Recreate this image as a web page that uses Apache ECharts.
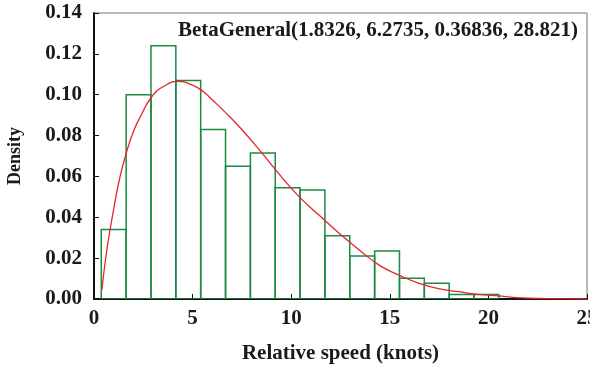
<!DOCTYPE html>
<html>
<head>
<meta charset="utf-8">
<script src="https://cdn.jsdelivr.net/npm/echarts@6/dist/echarts.min.js"></script>
<style>html,body{margin:0;padding:0;background:#fff}#c{width:590px;height:366px}</style>
</head>
<body>
<div id="c"></div>
<script>
// Histogram bin edges (knots) and densities
var binEdges = [0.37,1.63,2.89,4.15,5.41,6.67,7.93,9.19,10.45,11.71,12.97,14.23,15.49,16.75,18.01,19.27,20.53];
var binDensity = [0.034,0.100,0.124,0.107,0.083,0.065,0.0715,0.0545,0.0533,0.031,0.021,0.0235,0.0102,0.0077,0.0022,0.0022];
// Fitted curve points
var curveX = [0.40,0.65,0.99,1.30,1.66,2.00,2.34,2.93,3.52,4.28,5.00,5.55,6.02,6.70,7.37,8.47,9.23,10.41,11.42,12.44,13.45,14.46,15.47,16.49,17.67,18.5,19.0,20.5,21.4,22.9,25.0];
var curveY = [0.0044,0.024,0.0435,0.059,0.0722,0.082,0.089,0.099,0.104,0.1065,0.1047,0.1014,0.0973,0.091,0.0843,0.072,0.063,0.050,0.041,0.0321,0.024,0.0166,0.0117,0.0077,0.0047,0.0036,0.0028,0.0015,0.0007,0.0002,0.0];
var xTicks = [0,5,10,15,20,25];
var yTicks = [0,0.02,0.04,0.06,0.08,0.10,0.12,0.14];
var titleText = 'BetaGeneral(1.8326, 6.2735, 0.36836, 28.821)';

var bins = binDensity.map(function(d,i){return [binEdges[i], binEdges[i+1], d];});
var curve = curveX.map(function(x,i){return [x, curveY[i]];});
var font = '"Liberation Serif","Times New Roman",serif';

var chart = echarts.init(document.getElementById('c'), null, {renderer:'canvas'});
chart.setOption({
  animation:false,
  backgroundColor:'#fff',
  grid:{left:94,right:3,top:13,bottom:67,outerBoundsMode:'none',containLabel:false,show:true,borderColor:'#777',borderWidth:1,backgroundColor:'transparent'},
  title:{text:titleText,right:7,top:15,textStyle:{fontFamily:font,fontWeight:'bold',fontSize:21,color:'#1a1a1a'}},
  xAxis:{type:'value',min:xTicks[0],max:xTicks[xTicks.length-1],interval:5,
    name:'Relative speed (knots)',nameLocation:'middle',nameGap:44,
    nameTextStyle:{fontFamily:font,fontWeight:'bold',fontSize:21,color:'#1a1a1a'},
    axisLine:{show:true,onZero:false,lineStyle:{color:'#111',width:2}},
    axisTick:{show:true,inside:true,length:5,lineStyle:{color:'#111',width:1}},
    axisLabel:{fontFamily:font,fontWeight:'bold',fontSize:21,color:'#1a1a1a',margin:9,showMaxLabel:true,hideOverlap:false},
    splitLine:{show:false}},
  yAxis:{type:'value',min:yTicks[0],max:yTicks[yTicks.length-1],interval:0.02,
    name:'Density',nameLocation:'middle',nameGap:70,
    nameTextStyle:{fontFamily:font,fontWeight:'bold',fontSize:18,color:'#1a1a1a'},
    axisLine:{show:true,onZero:false,lineStyle:{color:'#111',width:2}},
    axisTick:{show:true,inside:true,length:5,lineStyle:{color:'#111',width:1}},
    axisLabel:{fontFamily:font,fontWeight:'bold',fontSize:21,color:'#1a1a1a',margin:12,
      formatter:function(v){return v.toFixed(2);}},
    splitLine:{show:false}},
  series:[
    {type:'custom',data:bins,encode:{x:[0,1],y:2},clip:true,
     renderItem:function(params,api){
       var p0=api.coord([api.value(0),api.value(2)]);
       var p1=api.coord([api.value(1),0]);
       return {type:'rect',shape:{x:p0[0],y:p0[1],width:p1[0]-p0[0],height:p1[1]-p0[1]},
         style:{fill:'none',stroke:'#1b8a45',lineWidth:1.5}};
     },z:2},
    {type:'line',data:curve,smooth:0.5,showSymbol:false,symbol:'none',
     lineStyle:{color:'#e8232a',width:1.3},z:3}
  ]
});
</script>
</body>
</html>
